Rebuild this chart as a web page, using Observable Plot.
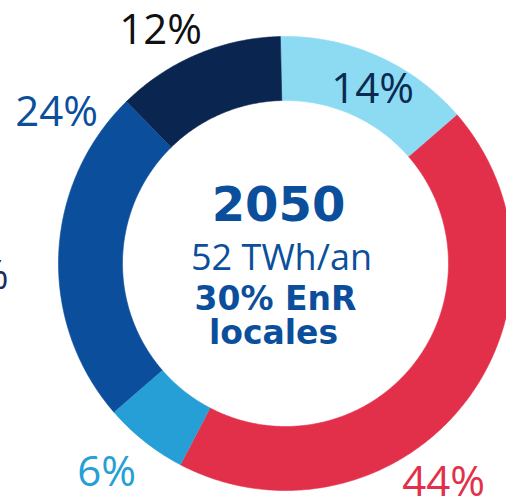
<!DOCTYPE html>
<html>
<head>
<meta charset="utf-8">
<script src="https://cdn.jsdelivr.net/npm/d3@7"></script>
<script src="https://cdn.jsdelivr.net/npm/@observablehq/plot@0.6"></script>
<style>
  html, body { margin: 0; padding: 0; background: #ffffff; }
  #chart { width: 506px; height: 499px; overflow: hidden; }
</style>
</head>
<body>
<div id="chart"></div>
<script>
// ---- data ----
const categories = ["s1", "s2", "s3", "s4", "s5"];
const shares = [14, 44, 6, 24, 12];
const shareLabels = ["14%", "44%", "6%", "24%", "12%"];
const colors = ["#8ddbf3", "#e3304a", "#259fd5", "#0b4f9c", "#0a2650"];
const labelColors = ["#0a2a52", "#e3304a", "#259fd5", "#0b4f9c", "#111111"];
const centerTitle = "2050";
const centerLines = ["52 TWh/an", "30% EnR", "locales"];

// ---- layout (pixel geometry of the ring) ----
const W = 506, H = 499;
const CX = 285, CY = 263, R = 227;
const innerRatio = 163 / 227;
const startDeg = -1.3;

// pixel -> data units helper (data: ring centred on 0,0 with outer radius 1)
const px = (x) => (x - CX) / R;
const py = (y) => (CY - y) / R;

const pie = d3.pie().sort(null).value(d => d.v)
  .startAngle(startDeg * Math.PI / 180)
  .endAngle((360 + startDeg) * Math.PI / 180);
const arcs = pie(categories.map((c, i) => ({c, v: shares[i]})));

// polygon outline of each slice (outer arc forward, inner arc back)
const ringPoints = [];
arcs.forEach(a => {
  const n = Math.max(8, Math.ceil((a.endAngle - a.startAngle) / 0.01));
  for (let k = 0; k <= n; k++) {
    const t = a.startAngle + (a.endAngle - a.startAngle) * k / n;
    ringPoints.push({c: a.data.c, x: Math.sin(t), y: Math.cos(t)});
  }
  for (let k = n; k >= 0; k--) {
    const t = a.startAngle + (a.endAngle - a.startAngle) * k / n;
    ringPoints.push({c: a.data.c, x: innerRatio * Math.sin(t), y: innerRatio * Math.cos(t)});
  }
});

// label placement (annotation layout, in pixels)
const labelPos = [[372, 89], [443, 482], [106, 472], [56, 112], [160, 30]];
const pctLabels = categories.map((c, i) => ({
  x: px(labelPos[i][0]), y: py(labelPos[i][1]), text: shareLabels[i], fill: labelColors[i]
}));

const chart = Plot.plot({
  width: W, height: H,
  margin: 0,
  x: {domain: [px(0), px(W)], axis: null},
  y: {domain: [py(H), py(0)], axis: null},
  color: {domain: categories, range: colors},
  style: {background: "#ffffff", overflow: "hidden"},
  marks: [
    Plot.line(ringPoints, {x: "x", y: "y", z: "c", fill: "c", stroke: "c", strokeWidth: 0.6, curve: "linear"}),
    Plot.text(pctLabels, {x: "x", y: "y", text: "text", fill: d => d.fill, fontSize: 42,
      fontFamily: "'Open Sans', sans-serif", fontWeight: 400}),
    Plot.text([centerTitle], {x: px(278), y: py(205), text: d => d, fill: "#0b4f9c", fontSize: 48,
      fontFamily: "'DejaVu Sans', sans-serif", fontWeight: 700}),
    Plot.text([centerLines[0]], {x: px(281), y: py(258), text: d => d, fill: "#0b4f9c", fontSize: 36,
      fontFamily: "'Open Sans', sans-serif", fontWeight: 400}),
    Plot.text([centerLines[1]], {x: px(275), y: py(299), text: d => d, fill: "#0b4f9c", fontSize: 33,
      fontFamily: "'DejaVu Sans', sans-serif", fontWeight: 700}),
    Plot.text([centerLines[2]], {x: px(273), y: py(333), text: d => d, fill: "#0b4f9c", fontSize: 33,
      fontFamily: "'DejaVu Sans', sans-serif", fontWeight: 700}),
    // cropped fragment of a neighbouring label at the left edge
    Plot.text(["%"], {x: px(8), y: py(276), text: d => d, fill: "#1b2f5c", fontSize: 40,
      textAnchor: "end", fontFamily: "'Open Sans', sans-serif"})
  ]
});
document.getElementById("chart").appendChild(chart);
</script>
</body>
</html>
